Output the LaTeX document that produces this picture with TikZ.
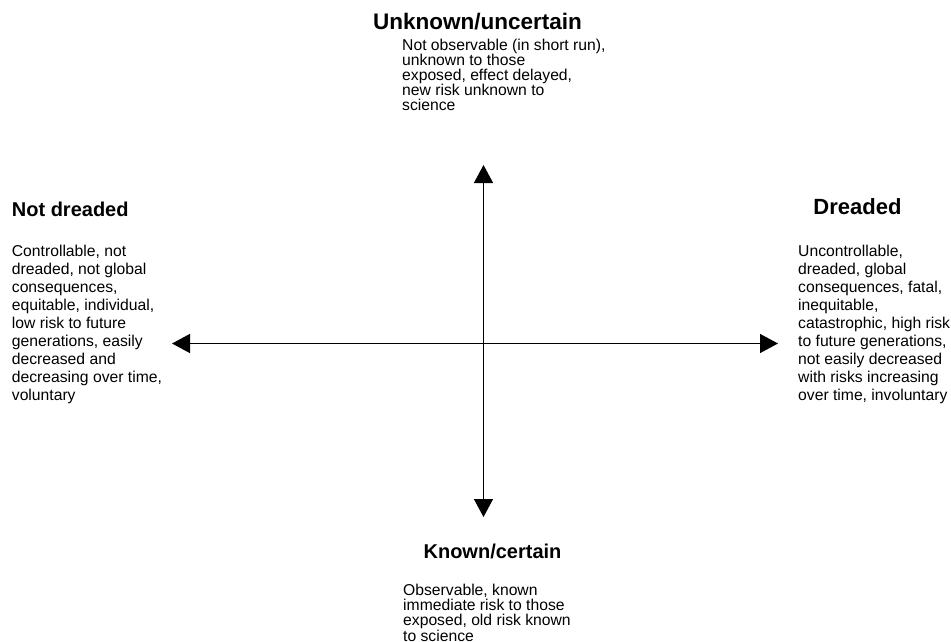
\documentclass[tikz,border=0pt]{standalone}
\usepackage{fontspec}
\setmainfont{Liberation Sans}
\usetikzlibrary{arrows.meta}
\begin{document}
\begin{tikzpicture}[x=1pt,y=-1pt,
  axis/.style={line width=1.4pt,
    {Triangle[length=18pt,width=19pt]}-{Triangle[length=18pt,width=19pt]}},
  heading/.style={inner sep=0pt, anchor=base,
    font=\bfseries\fontsize{#1}{#1}\selectfont},
  % multi-line blocks are placed by the baseline of their last line
  body/.style={inner sep=0pt, anchor=base west, align=left,
    font=\fontsize{15.7}{#1}\selectfont},
]
\useasboundingbox (0,0) rectangle (951,641);

% axes
\coordinate (left)   at (172,343.5);
\coordinate (right)  at (778,343.5);
\coordinate (top)    at (483.5,165);
\coordinate (bottom) at (483.5,517);
\draw[axis] (left) -- (right);
\draw[axis] (bottom) -- (top);

% upper pole
\node[heading=22.5] (unknownTitle) at (477.5,29) {Unknown/uncertain};
\node[body=15] (unknownText) at (402,110) {Not observable (in short run),\\
unknown to those\\
exposed, effect delayed,\\
new risk unknown to\\
science};

% left pole
\node[heading=20, anchor=base west] (notDreadedTitle) at (11.7,216.7) {Not dreaded};
\node[body=18] (notDreadedText) at (11.7,400) {Controllable, not\\
dreaded, not global\\
consequences,\\
equitable, individual,\\
low risk to future\\
generations, easily\\
decreased and\\
decreasing over time,\\
voluntary};

% right pole
\node[heading=22] (dreadedTitle) at (857.5,214) {Dreaded};
\node[body=18] (dreadedText) at (798,400.7) {Uncontrollable,\\
dreaded, global\\
consequences, fatal,\\
inequitable,\\
catastrophic, high risk\\
to future generations,\\
not easily decreased\\
with risks increasing\\
over time, involuntary};

% lower pole
\node[heading=20] (knownTitle) at (492.5,558) {Known/certain};
\node[body=15.3] (knownText) at (403,641) {Observable, known\\
immediate risk to those\\
exposed, old risk known\\
to science};
\end{tikzpicture}
\end{document}
